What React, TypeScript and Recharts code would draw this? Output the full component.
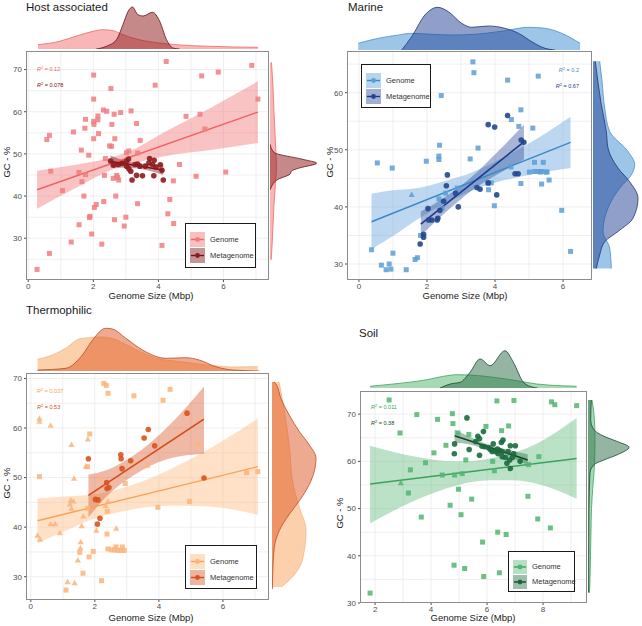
import React from "react";
import {
  ComposedChart,
  AreaChart,
  Area,
  Line,
  Scatter,
  XAxis,
  YAxis,
  CartesianGrid,
} from "recharts";

const FONT = '"Liberation Sans", Arial, Helvetica, sans-serif';

type P = [number, number];
type B = [number, number, number];

// ---------- Host associated ----------
const hostGenome: P[] = [
  [0.27, 22.6], [0.65, 54.4], [0.57, 53.4], [0.69, 45.9], [0.65, 26.4], [1.05, 41.3], [1.32, 29.1],
  [1.39, 55.2], [1.56, 33.2], [1.56, 45.6], [1.63, 50.9], [1.65, 43.4], [1.71, 40.0], [1.76, 45.1],
  [1.74, 56.1], [1.76, 58.2], [1.86, 49.7], [1.9, 35.2], [1.88, 34.9], [1.95, 31.0], [2.01, 68.7],
  [2.01, 63.0], [2.01, 57.7], [2.02, 57.0], [2.01, 53.6], [2.03, 37.3], [2.09, 38.0], [2.14, 59.0],
  [2.14, 58.1], [2.16, 54.8], [2.26, 28.6], [2.32, 38.7], [2.31, 60.4], [2.41, 60.1], [2.37, 48.9],
  [2.34, 44.9], [2.54, 65.5], [2.5, 51.9], [2.56, 51.8], [2.57, 57.0], [2.64, 59.4], [2.66, 53.6],
  [2.61, 44.2], [2.69, 40.0], [2.65, 34.4], [2.72, 44.9], [2.74, 44.4], [2.78, 43.8], [2.84, 59.8],
  [2.95, 32.9], [3.0, 35.0], [3.02, 50.3], [3.09, 50.7], [3.16, 60.2], [3.33, 57.2], [3.36, 50.2],
  [3.36, 38.2], [3.44, 53.2], [3.9, 66.3], [4.24, 71.9], [4.11, 28.3], [4.35, 39.2], [4.29, 35.8],
  [4.47, 33.5], [4.46, 43.6], [4.65, 47.5], [4.85, 58.9], [5.16, 44.7], [5.28, 59.4], [5.33, 68.5],
  [5.43, 55.9], [5.84, 69.4], [6.07, 45.7], [6.87, 71.0], [7.06, 63.0],
];
const hostMeta: P[] = [
  [2.53, 48.3], [2.62, 47.3], [2.77, 47.5], [2.88, 47.8], [3.01, 48.2], [3.08, 48.8], [3.09, 46.5],
  [3.15, 45.9], [3.19, 43.8], [3.28, 47.5], [3.33, 44.9], [3.51, 44.8], [3.6, 47.1], [3.71, 47.9],
  [3.73, 48.9], [3.82, 47.5], [3.87, 48.5], [3.86, 44.8], [3.92, 46.9], [4.06, 47.4], [4.11, 46.1],
  [4.15, 43.8], [3.02, 47.1], [3.43, 47.1], [3.36, 47.6],
];
const hostGenomeFit: P[] = [[0.27, 41.5], [7.06, 59.9]];
const hostGenomeBand: B[] = [
  [0.27, 37.0, 46.0], [1.5, 42.1, 47.5], [2.53, 46.1, 49.1], [3.3, 47.9, 51.3],
  [4.15, 49.4, 55.0], [5.6, 50.9, 60.9], [7.06, 52.6, 67.2],
];
const hostMetaFit: P[] = [[2.53, 48.2], [4.15, 46.2]];
const hostMetaBand: B[] = [[2.53, 46.8, 49.6], [3.3, 46.6, 47.8], [4.15, 45.0, 47.5]];
const hostTopGenome: P[] = [
  [0.3, 4.3], [0.96, 7.7], [1.48, 13], [1.99, 17.7], [2.3, 19.3], [2.61, 18.3], [2.91, 14.3],
  [3.32, 10], [4.03, 6], [4.55, 4.3], [5.57, 2.7], [7.06, 1.7],
];
const hostTopMeta: P[] = [
  [2.09, 0], [2.4, 2.7], [2.71, 9.3], [2.91, 24.3], [3.07, 37.7], [3.2, 42], [3.37, 34.3],
  [3.53, 33], [3.82, 36.7], [4.04, 27.7], [4.25, 9.3], [4.45, 1], [4.65, 0],
];
const hostRightGenome: P[] = [
  [71.7, 1.5], [66, 3], [60, 4], [55, 5], [50, 6], [47, 6.5], [43, 5.5], [38, 4], [33, 3], [28, 2], [24.9, 1.2],
];
const hostRightMeta: P[] = [
  [52.3, 0], [50.3, 4.3], [48.7, 33], [47.8, 46.7], [46.7, 30], [46.0, 21.7], [45.2, 20],
  [44.0, 8.3], [42.0, 1], [41.5, 0],
];

// ---------- Marine ----------
const marineGenome: P[] = [
  [0.37, 32.5], [0.54, 47.7], [0.66, 29.8], [0.8, 29.0], [0.89, 30.0], [0.94, 29.1], [0.98, 46.8],
  [1.0, 31.9], [1.39, 29.0], [1.65, 30.8], [1.72, 31.1], [1.81, 35.0], [1.98, 48.0], [2.37, 50.8],
  [2.35, 48.3], [2.35, 48.9], [2.42, 59.5], [2.35, 41.4], [2.45, 39.8], [2.55, 42.4], [2.89, 43.3],
  [3.27, 48.4], [3.35, 65.4], [3.38, 63.5], [3.5, 50.3], [3.79, 44.2], [3.81, 43.0], [3.89, 44.2],
  [3.98, 40.2], [4.37, 62.2], [4.48, 55.3], [4.7, 54.1], [4.76, 57.0], [4.47, 47.0], [4.76, 44.1],
  [5.01, 46.1], [5.11, 53.8], [5.16, 46.2], [5.26, 46.2], [5.27, 62.9], [5.33, 46.1], [5.38, 46.2],
  [5.42, 47.8], [5.37, 44.0], [5.5, 46.1], [5.53, 46.1], [5.59, 44.7], [5.96, 39.4], [6.22, 32.2],
  [5.16, 47.8],
];
const marineGenomeTri: P[] = [[1.55, 42.1]];
const marineMeta: P[] = [
  [1.8, 33.5], [1.9, 35.2], [1.9, 34.7], [2.03, 39.7], [2.05, 37.7], [2.14, 37.7], [2.3, 37.7],
  [2.32, 38.0], [2.38, 39.4], [2.49, 41.0], [2.57, 43.7], [2.6, 45.6], [2.84, 42.4], [2.92, 40.0],
  [3.47, 43.4], [3.56, 43.1], [3.8, 44.2], [3.8, 54.4], [3.99, 54.0], [4.05, 42.1], [4.37, 56.0],
  [4.59, 45.8], [4.68, 45.8], [4.77, 51.7], [4.85, 51.3],
];
const marineGenomeFit: P[] = [[0.37, 37.4], [6.22, 51.3]];
const marineGenomeBand: B[] = [
  [0.37, 32.6, 42.3], [1.0, 34.9, 42.9], [1.82, 38.2, 43.4], [2.5, 40.5, 44.5], [3.3, 42.8, 46.0],
  [4.1, 44.4, 48.2], [4.85, 45.4, 50.6], [6.22, 46.8, 55.8],
];
const marineMetaFit: P[] = [[1.82, 37.0], [4.85, 51.4]];
const marineMetaBand: B[] = [
  [1.82, 35.0, 39.2], [2.5, 38.8, 41.6], [3.3, 42.8, 45.2], [4.1, 45.8, 49.8], [4.85, 48.3, 54.4],
];
const marineTopGenome: P[] = [
  [-0.02, 6.7], [0.57, 11.7], [1.16, 15], [1.55, 16.7], [2.14, 15.7], [2.82, 15], [3.71, 16.7],
  [4.29, 19.3], [4.98, 22.7], [5.47, 21.7], [5.96, 16.7], [6.5, 6.7],
];
const marineTopMeta: P[] = [
  [1.26, 0], [1.55, 13.3], [1.94, 35], [2.31, 42.7], [2.63, 38.3], [3.02, 26.7], [3.31, 22.7],
  [3.8, 24], [4.29, 21.7], [4.69, 16.7], [5.08, 8.3], [5.47, 1.7], [5.76, 0],
];
const marineRightGenome: P[] = [
  [65.5, 6.7], [62.0, 9], [57.3, 11.7], [53.2, 16.7], [49.7, 35], [47.4, 41.7], [45.6, 38.3],
  [43.3, 26.7], [39.8, 15], [35.7, 10], [32.8, 16.7], [29.2, 18.3],
];
const marineRightMeta: P[] = [
  [65.5, 2.3], [57.9, 8.3], [53.2, 13.3], [50.3, 15], [46.8, 25], [44.4, 36.7], [41.5, 45],
  [38.0, 40], [35.7, 25], [33.9, 11.7], [31.6, 6.7], [29.2, 3.3],
];

// ---------- Thermophilic ----------
const thermoGenome: P[] = [
  [0.27, 50.2], [1.1, 27.3], [1.53, 34.9], [1.63, 30.7], [1.77, 52.2], [1.82, 34.0], [1.84, 58.8],
  [1.95, 35.1], [2.21, 29.2], [2.28, 69.0], [2.36, 68.6], [2.41, 67.0], [2.38, 38.6], [2.41, 35.6],
  [2.52, 35.4], [2.62, 35.4], [2.66, 36.0], [2.72, 35.3], [2.82, 35.3], [2.92, 35.3], [2.86, 36.0],
  [2.39, 43.2], [2.95, 48.8], [3.22, 66.5], [3.65, 52.5], [3.97, 44.0], [4.13, 65.6], [4.35, 67.8],
  [4.96, 45.2], [5.23, 56.7], [6.74, 51.0], [7.09, 51.2], [1.78, 43.8],
];
const thermoGenomeTri: P[] = [
  [0.21, 38.3], [0.27, 61.9], [0.27, 61.3], [0.29, 37.5], [0.62, 60.5], [0.62, 40.6], [0.76, 40.6],
  [0.91, 38.8], [1.15, 28.9], [1.27, 56.6], [1.25, 45.4], [1.33, 45.2], [1.27, 43.7], [1.37, 28.7],
  [1.35, 49.8], [1.47, 33.3], [1.56, 37.0], [1.55, 35.8], [1.59, 40.2], [1.64, 42.2], [1.72, 52.2],
  [1.78, 57.7], [2.05, 39.3], [2.16, 49.8], [2.34, 44.3], [2.41, 45.2], [2.67, 39.7], [1.22, 44.6],
];
const thermoMeta: P[] = [
  [1.8, 53.8], [2.02, 45.6], [2.1, 45.5], [2.08, 40.6], [2.16, 41.8], [2.37, 49.0], [2.38, 47.8],
  [2.44, 48.0], [2.81, 54.6], [2.82, 53.8], [2.85, 51.8], [3.12, 53.4], [3.54, 58.0], [3.67, 59.7],
  [3.87, 56.4], [4.88, 63.0], [5.41, 49.9],
];
const thermoGenomeFit: P[] = [[0.21, 41.3], [7.09, 52.2]];
const thermoGenomeBand: B[] = [
  [0.21, 36.8, 45.8], [1.0, 39.0, 46.2], [1.8, 41.3, 46.5], [2.4, 42.5, 47.1], [3.2, 43.6, 48.6],
  [4.3, 44.3, 51.5], [5.41, 44.2, 55.2], [7.09, 42.5, 61.9],
];
const thermoMetaFit: P[] = [[1.8, 46.4], [5.41, 61.8]];
const thermoMetaBand: B[] = [
  [1.8, 42.0, 50.6], [2.4, 46.4, 51.6], [3.2, 50.4, 54.4], [4.3, 53.8, 60.4], [5.41, 54.8, 68.4],
];
const thermoTopGenome: P[] = [
  [0.21, 11.7], [0.68, 16], [1.09, 22.7], [1.51, 32], [1.82, 33.3], [2.2, 34], [2.6, 32], [3.0, 26],
  [3.5, 18], [4.0, 12], [4.5, 10], [5.0, 8], [5.5, 6], [6.3, 4], [7.09, 4.3],
];
const thermoTopMeta: P[] = [
  [0.21, 1], [1.09, 2.7], [1.61, 16], [1.93, 31], [2.34, 42.7], [2.55, 42], [2.97, 32.7],
  [3.49, 21], [4.22, 12.7], [4.84, 13.3], [5.26, 11], [5.78, 4.3], [6.3, 1], [7.13, 0],
];
const thermoRightGenome: P[] = [
  [69.3, 7], [65, 11], [60, 15], [55, 18], [50, 20], [47, 23], [44, 27.3], [39.3, 34], [35.3, 32.3],
  [31.9, 27.3], [29.3, 17.3], [27.9, 9],
];
const thermoRightMeta: P[] = [
  [69.3, 2], [68.9, 4], [65.9, 9], [62.6, 17.3], [59.3, 27.3], [56.6, 37.3], [53.9, 44], [51.3, 42.3],
  [48.6, 37.3], [45.3, 27.3], [42.6, 17.3], [39.3, 7.3], [35.9, 2.3], [30.6, 0.7], [27.5, 0.3],
];

// ---------- Soil ----------
const soilGenome: P[] = [
  [1.82, 32.1], [2.5, 73.0], [2.89, 66.0], [3.19, 53.3], [3.26, 58.2], [3.49, 69.9], [3.65, 48.2],
  [3.8, 59.7], [4.1, 61.8], [4.23, 68.9], [4.4, 57.1], [4.53, 63.4], [4.68, 50.7], [4.76, 70.1],
  [4.78, 68.0], [4.82, 38.0], [4.84, 57.1], [4.96, 66.0], [4.98, 54.1], [5.07, 48.7], [5.11, 57.4],
  [5.2, 37.3], [5.24, 60.3], [5.35, 65.7], [5.45, 52.0], [5.84, 42.9], [5.88, 35.6], [5.96, 67.4],
  [6.2, 60.0], [6.26, 58.0], [6.35, 72.8], [6.38, 45.0], [6.44, 36.4], [6.52, 66.5], [6.68, 44.5],
  [6.77, 67.5], [6.96, 72.9], [7.46, 52.6], [7.81, 47.8], [7.85, 61.0], [8.26, 45.9], [8.3, 72.6],
  [8.42, 72.0], [9.2, 71.8], [7.48, 59.3],
];
const soilGenomeTri: P[] = [[2.92, 55.4]];
const soilMeta: P[] = [
  [4.84, 63.7], [4.83, 61.6], [5.28, 69.2], [5.36, 62.5], [5.59, 64.2], [5.67, 65.3], [5.73, 64.8],
  [5.73, 61.3], [5.87, 66.3], [5.91, 63.1], [6.06, 62.9], [6.12, 62.5], [6.18, 62.1], [6.22, 63.7],
  [6.3, 62.1], [6.37, 62.6], [6.45, 62.3], [6.51, 64.0], [6.54, 62.1], [6.54, 61.0], [6.57, 64.5],
  [6.65, 60.8], [6.71, 59.6], [6.75, 62.1], [6.81, 60.3], [6.83, 63.3], [6.83, 58.5], [6.91, 60.8],
  [6.95, 61.6], [7.01, 63.3], [7.18, 60.0], [6.39, 61.6], [5.82, 63.2],
];
const soilGenomeFit: P[] = [[1.82, 55.2], [9.2, 60.6]];
const soilGenomeBand: B[] = [
  [1.82, 46.9, 63.3], [3.5, 51.9, 60.9], [4.84, 54.8, 60.0], [5.5, 55.7, 60.1], [6.1, 56.0, 60.6],
  [6.8, 56.0, 61.6], [7.45, 55.7, 62.9], [9.2, 52.1, 69.2],
];
const soilMetaFit: P[] = [[4.84, 65.4], [7.45, 60.3]];
const soilMetaBand: B[] = [
  [4.84, 64.0, 66.7], [5.5, 63.4, 64.9], [6.1, 62.2, 63.4], [6.8, 60.9, 62.4], [7.45, 59.2, 61.5],
];
const soilTopGenome: P[] = [
  [1.82, 1.7], [2.65, 4], [3.85, 8.3], [4.44, 11.7], [4.92, 13.3], [5.39, 13], [6.23, 10.7],
  [7.06, 7.3], [7.77, 4], [8.61, 2.3], [9.2, 1.7],
];
const soilTopMeta: P[] = [
  [4.32, 0], [4.68, 4], [5.04, 5.7], [5.39, 15.7], [5.75, 29], [6.11, 22.3], [6.64, 37.3],
  [6.94, 25.7], [7.3, 5.7], [7.65, 0.7], [7.8, 0],
];
const soilRightGenome: P[] = [
  [73, 4], [70, 6], [65, 7], [60, 6.7], [55, 5], [50, 3.5], [45, 3], [40, 2.5], [35, 2], [32.2, 1.5],
];
const soilRightMeta: P[] = [
  [73.0, 3.3], [68.8, 2.7], [66.7, 6], [65.3, 16], [64.2, 29.3], [63.0, 41], [61.4, 29.3],
  [60.3, 16], [59.3, 6], [57.5, 2], [50, 1], [40, 0.8], [32.2, 0.7],
];

// ---------- helpers ----------
interface Colors {
  gPt: string; mPt: string; gLine: string; mLine: string; gBand: string; mBand: string;
  gDen: string; gDenLine: string; mDen: string; mDenLine: string;
}

interface Cfg {
  title: string; titleX: number; titleY: number;
  box: { left: number; top: number; width: number; height: number };
  xDomain: [number, number]; yDomain: [number, number];
  xTicks: number[]; yTicks: number[]; xGrid: number[]; yGrid: number[];
  genome: P[]; genomeTri: P[]; meta: P[];
  gFit: P[]; gBand: B[]; mFit: P[]; mBand: B[];
  topG: P[]; topM: P[]; topBase: number; topH: number;
  rightG: P[]; rightM: P[]; rightLeft: number; rightW: number;
  c: Colors;
  legend: { left: number; top: number; width: number; height: number; key: number };
  r2: [string, string]; r2X: number; r2Y: [number, number]; r2Right: boolean;
  xLabel: [number, number]; yLabel: [number, number];
}

const toPts = (a: P[]) => a.map(([x, y]) => ({ x, y }));

function fitRows(gFit: P[], gBand: B[], mFit: P[], mBand: B[]) {
  const map = new Map<number, any>();
  const get = (x: number) => {
    if (!map.has(x)) map.set(x, { x });
    return map.get(x);
  };
  gFit.forEach(([x, y]) => (get(x).gFit = y));
  gBand.forEach(([x, lo, hi]) => (get(x).gBand = [lo, hi]));
  mFit.forEach(([x, y]) => (get(x).mFit = y));
  mBand.forEach(([x, lo, hi]) => (get(x).mBand = [lo, hi]));
  return Array.from(map.values()).sort((a, b) => a.x - b.x);
}

function denRows(g: P[], m: P[], desc = false) {
  const map = new Map<number, any>();
  const get = (k: number) => {
    if (!map.has(k)) map.set(k, { k });
    return map.get(k);
  };
  g.forEach(([k, v]) => (get(k).g = v));
  m.forEach(([k, v]) => (get(k).m = v));
  return Array.from(map.values()).sort((a, b) => (desc ? b.k - a.k : a.k - b.k));
}

const squareShape = (fill: string) => (p: any) => (
  <rect x={p.cx - 2.5} y={p.cy - 2.5} width={5} height={5} fill={fill} fillOpacity={0.85} />
);
const triShape = (fill: string) => (p: any) => (
  <path
    d={`M${p.cx},${p.cy - 3.3}L${p.cx + 3.1},${p.cy + 2.2}L${p.cx - 3.1},${p.cy + 2.2}Z`}
    fill={fill}
    fillOpacity={0.85}
  />
);
const circleShape = (fill: string) => (p: any) => (
  <circle cx={p.cx} cy={p.cy} r={2.8} fill={fill} fillOpacity={0.9} />
);

const abs = (left: number, top: number): React.CSSProperties => ({ position: "absolute", left, top });

function KeyBox({ size, band, line, pt }: { size: number; band: string; line: string; pt: string }) {
  return (
    <svg width={size} height={size} style={{ display: "block" }}>
      <rect width={size} height={size} fill={band} fillOpacity={0.45} />
      <line x1={1} x2={size - 1} y1={size / 2} y2={size / 2} stroke={line} strokeWidth={1.4} />
      <circle cx={size / 2} cy={size / 2} r={2.4} fill={pt} />
    </svg>
  );
}

function R2({ value, color }: { value: string; color: string }) {
  return (
    <span style={{ color, fontSize: 5.5, whiteSpace: "nowrap", lineHeight: 1 }}>
      <i>R</i>
      <span style={{ fontSize: 4, verticalAlign: 2 }}>2</span> = {value}
    </span>
  );
}

const YW = 24;
const MT = 10;
const MR = 10;
const XH = 16;

function Panel({ cfg }: { cfg: Cfg }) {
  const { box, c } = cfg;
  const rows = fitRows(cfg.gFit, cfg.gBand, cfg.mFit, cfg.mBand);
  const topRows = denRows(cfg.topG, cfg.topM);
  const rightRows = denRows(cfg.rightG, cfg.rightM, true);
  const tick = { fontSize: 8, fill: "#4d4d4d", fontFamily: FONT };
  const lg = cfg.legend;
  return (
    <>
      <div
        style={{
          ...abs(cfg.titleX, cfg.titleY),
          transform: "translateY(-50%)",
          fontSize: 11.5,
          lineHeight: 1,
          color: "#1a1a1a",
          whiteSpace: "nowrap",
        }}
      >
        {cfg.title}
      </div>

      {/* top marginal density */}
      <div style={abs(box.left, cfg.topBase - cfg.topH)}>
        <AreaChart width={box.width} height={cfg.topH} data={topRows} margin={{ top: 0, right: 0, bottom: 0, left: 0 }}>
          <XAxis type="number" dataKey="k" domain={cfg.xDomain} allowDataOverflow hide />
          <YAxis type="number" domain={[0, cfg.topH]} allowDataOverflow hide />
          <Area dataKey="g" type="monotone" connectNulls fill={c.gDen} fillOpacity={0.5} stroke={c.gDenLine}
            strokeWidth={0.8} dot={false} activeDot={false} isAnimationActive={false} />
          <Area dataKey="m" type="monotone" connectNulls fill={c.mDen} fillOpacity={0.5} stroke={c.mDenLine}
            strokeWidth={0.8} dot={false} activeDot={false} isAnimationActive={false} />
        </AreaChart>
      </div>

      {/* right marginal density */}
      <div style={abs(cfg.rightLeft, box.top)}>
        <AreaChart layout="vertical" width={cfg.rightW} height={box.height} data={rightRows}
          margin={{ top: 0, right: 0, bottom: 0, left: 0 }}>
          <XAxis type="number" domain={[0, cfg.rightW]} allowDataOverflow hide />
          <YAxis type="number" dataKey="k" domain={cfg.yDomain} allowDataOverflow reversed hide />
          <Area dataKey="g" type="monotone" connectNulls fill={c.gDen} fillOpacity={0.5} stroke={c.gDenLine}
            strokeWidth={0.8} dot={false} activeDot={false} isAnimationActive={false} />
          <Area dataKey="m" type="monotone" connectNulls fill={c.mDen} fillOpacity={0.5} stroke={c.mDenLine}
            strokeWidth={0.8} dot={false} activeDot={false} isAnimationActive={false} />
        </AreaChart>
      </div>

      {/* main scatter with fits */}
      <div style={abs(box.left - YW, box.top - MT)}>
        <ComposedChart width={box.width + YW + MR} height={box.height + MT + XH} data={rows}
          margin={{ top: MT, right: MR, bottom: 0, left: 0 }}>
          <CartesianGrid verticalValues={cfg.xGrid} horizontalValues={cfg.yGrid} stroke="#ebebeb" strokeWidth={0.8} />
          <XAxis type="number" dataKey="x" domain={cfg.xDomain} ticks={cfg.xTicks} interval={0} allowDataOverflow
            height={XH} tickSize={2} tickMargin={1} axisLine={false} tick={tick} tickLine={{ stroke: "#4d4d4d" }} />
          <YAxis type="number" domain={cfg.yDomain} ticks={cfg.yTicks} interval={0} allowDataOverflow
            width={YW} tickSize={2} tickMargin={2} axisLine={false} tick={tick} tickLine={{ stroke: "#4d4d4d" }} />
          <Area dataKey="gBand" type="monotone" fill={c.gBand} fillOpacity={0.42} stroke="none"
            dot={false} activeDot={false} isAnimationActive={false} />
          <Area dataKey="mBand" type="monotone" fill={c.mBand} fillOpacity={0.42} stroke="none"
            dot={false} activeDot={false} isAnimationActive={false} />
          <Scatter data={toPts(cfg.genome)} dataKey="y" shape={squareShape(c.gPt)} isAnimationActive={false} />
          <Scatter data={toPts(cfg.genomeTri)} dataKey="y" shape={triShape(c.gPt)} isAnimationActive={false} />
          <Scatter data={toPts(cfg.meta)} dataKey="y" shape={circleShape(c.mPt)} isAnimationActive={false} />
          <Line dataKey="gFit" type="linear" connectNulls stroke={c.gLine} strokeWidth={1.4}
            dot={false} activeDot={false} isAnimationActive={false} />
          <Line dataKey="mFit" type="linear" connectNulls stroke={c.mLine} strokeWidth={1.6}
            dot={false} activeDot={false} isAnimationActive={false} />
        </ComposedChart>
      </div>

      {/* panel border */}
      <div
        style={{
          ...abs(box.left, box.top),
          width: box.width,
          height: box.height,
          border: "1px solid #8c8c8c",
          boxSizing: "border-box",
          pointerEvents: "none",
        }}
      />

      {/* R² labels */}
      {cfg.r2.map((v, i) => (
        <div
          key={i}
          style={{
            ...abs(cfg.r2X, cfg.r2Y[i]),
            transform: cfg.r2Right ? "translate(-100%,-50%)" : "translateY(-50%)",
            lineHeight: 1,
          }}
        >
          <R2 value={v} color={i === 0 ? c.gLine : c.mLine} />
        </div>
      ))}

      {/* legend */}
      <div
        style={{
          ...abs(lg.left, lg.top),
          width: lg.width,
          height: lg.height,
          border: "1.2px solid #1a1a1a",
          boxSizing: "border-box",
          background: "#fff",
        }}
      >
        {[
          { label: "Genome", band: c.gBand, line: c.gLine, pt: c.gPt },
          { label: "Metagenome", band: c.mBand, line: c.mLine, pt: c.mPt },
        ].map((it, i) => (
          <React.Fragment key={it.label}>
            <div style={abs(4, 7.5 + i * (lg.key + 1))}>
              <KeyBox size={lg.key} band={it.band} line={it.line} pt={it.pt} />
            </div>
            <div
              style={{
                ...abs(lg.key + 9, 7.5 + i * (lg.key + 1)),
                height: lg.key,
                lineHeight: `${lg.key}px`,
                fontSize: 7.5,
                color: "#333",
                whiteSpace: "nowrap",
              }}
            >
              {it.label}
            </div>
          </React.Fragment>
        ))}
      </div>

      {/* axis titles */}
      <div
        style={{
          ...abs(cfg.xLabel[0], cfg.xLabel[1]),
          transform: "translate(-50%,-50%)",
          fontSize: 9.5,
          lineHeight: 1,
          color: "#1a1a1a",
          whiteSpace: "nowrap",
        }}
      >
        Genome Size (Mbp)
      </div>
      <div
        style={{
          ...abs(cfg.yLabel[0], cfg.yLabel[1]),
          transform: "translate(-50%,-50%) rotate(-90deg)",
          fontSize: 9.5,
          lineHeight: 1,
          color: "#1a1a1a",
          whiteSpace: "nowrap",
        }}
      >
        GC - %
      </div>
    </>
  );
}

const panels: Cfg[] = [
  {
    title: "Host associated", titleX: 26, titleY: 7.5,
    box: { left: 26, top: 51, width: 243, height: 229 },
    xDomain: [-0.07, 7.4], yDomain: [20.1, 74.4],
    xTicks: [0, 2, 4, 6], yTicks: [30, 40, 50, 60, 70],
    xGrid: [0, 1, 2, 3, 4, 5, 6, 7], yGrid: [25, 30, 35, 40, 45, 50, 55, 60, 65, 70],
    genome: hostGenome, genomeTri: [], meta: hostMeta,
    gFit: hostGenomeFit, gBand: hostGenomeBand, mFit: hostMetaFit, mBand: hostMetaBand,
    topG: hostTopGenome, topM: hostTopMeta, topBase: 49, topH: 44,
    rightG: hostRightGenome, rightM: hostRightMeta, rightLeft: 270, rightW: 47,
    c: {
      gPt: "#F07C80", mPt: "#8E1A1E", gLine: "#EE6464", mLine: "#850A10", gBand: "#F27070",
      mBand: "#7A1418", gDen: "#F26D6D", gDenLine: "#EE6A6A", mDen: "#8B1414", mDenLine: "#6A0F16",
    },
    legend: { left: 185, top: 223, width: 71, height: 45, key: 15 },
    r2: ["0.12", "0.078"], r2X: 37, r2Y: [66, 82], r2Right: false,
    xLabel: [151, 296], yLabel: [7, 162],
  },
  {
    title: "Marine", titleX: 348, titleY: 7.5,
    box: { left: 347, top: 51, width: 245, height: 229 },
    xDomain: [-0.35, 6.85], yDomain: [27.2, 67.3],
    xTicks: [0, 2, 4, 6], yTicks: [30, 40, 50, 60],
    xGrid: [0, 1, 2, 3, 4, 5, 6], yGrid: [30, 35, 40, 45, 50, 55, 60, 65],
    genome: marineGenome, genomeTri: marineGenomeTri, meta: marineMeta,
    gFit: marineGenomeFit, gBand: marineGenomeBand, mFit: marineMetaFit, mBand: marineMetaBand,
    topG: marineTopGenome, topM: marineTopMeta, topBase: 50, topH: 44,
    rightG: marineRightGenome, rightM: marineRightMeta, rightLeft: 593, rightW: 46,
    c: {
      gPt: "#5C9ED6", mPt: "#22468F", gLine: "#3A88C8", mLine: "#183C88", gBand: "#5FA0D8",
      mBand: "#2F4E9E", gDen: "#3C8BD0", gDenLine: "#4E8FC8", mDen: "#1F3F93", mDenLine: "#1E3575",
    },
    legend: { left: 361, top: 64, width: 70, height: 44, key: 15 },
    r2: ["0.2", "0.67"], r2X: 579, r2Y: [67, 83], r2Right: true,
    xLabel: [465, 296], yLabel: [330, 162],
  },
  {
    title: "Thermophilic", titleX: 26, titleY: 311,
    box: { left: 26, top: 373, width: 243, height: 227 },
    xDomain: [-0.15, 7.44], yDomain: [25.3, 71.1],
    xTicks: [0, 2, 4, 6], yTicks: [30, 40, 50, 60, 70],
    xGrid: [0, 1, 2, 3, 4, 5, 6, 7], yGrid: [30, 35, 40, 45, 50, 55, 60, 65, 70],
    genome: thermoGenome, genomeTri: thermoGenomeTri, meta: thermoMeta,
    gFit: thermoGenomeFit, gBand: thermoGenomeBand, mFit: thermoMetaFit, mBand: thermoMetaBand,
    topG: thermoTopGenome, topM: thermoTopMeta, topBase: 371, topH: 45,
    rightG: thermoRightGenome, rightM: thermoRightMeta, rightLeft: 272, rightW: 45,
    c: {
      gPt: "#FBB47A", mPt: "#D8531F", gLine: "#F8A256", mLine: "#D24B17", gBand: "#FCB77A",
      mBand: "#D8582A", gDen: "#F9A257", gDenLine: "#F5B380", mDen: "#DD5522", mDenLine: "#C04A20",
    },
    legend: { left: 185, top: 545, width: 72, height: 44, key: 15 },
    r2: ["0.037", "0.53"], r2X: 37, r2Y: [388, 404], r2Right: false,
    xLabel: [151, 618], yLabel: [7, 483],
  },
  {
    title: "Soil", titleX: 359, titleY: 334,
    box: { left: 360, top: 391, width: 227, height: 212 },
    xDomain: [1.46, 9.57], yDomain: [30, 74.9],
    xTicks: [2, 4, 6, 8], yTicks: [30, 40, 50, 60, 70],
    xGrid: [2, 3, 4, 5, 6, 7, 8, 9], yGrid: [35, 40, 45, 50, 55, 60, 65, 70],
    genome: soilGenome, genomeTri: soilGenomeTri, meta: soilMeta,
    gFit: soilGenomeFit, gBand: soilGenomeBand, mFit: soilMetaFit, mBand: soilMetaBand,
    topG: soilTopGenome, topM: soilTopMeta, topBase: 388, topH: 40,
    rightG: soilRightGenome, rightM: soilRightMeta, rightLeft: 588, rightW: 43,
    c: {
      gPt: "#52B571", mPt: "#1B6A3E", gLine: "#3BA25E", mLine: "#0F4A28", gBand: "#5DB87A",
      mBand: "#2D6E4A", gDen: "#4FB36B", gDenLine: "#3FA35E", mDen: "#2A6B44", mDenLine: "#1E4630",
    },
    legend: { left: 508, top: 551, width: 67, height: 41, key: 14 },
    r2: ["0.011", "0.38"], r2X: 371, r2Y: [404, 420], r2Right: false,
    xLabel: [473, 618], yLabel: [340, 513],
  },
];

export default function App() {
  return (
    <div
      style={{
        position: "absolute",
        left: 0,
        top: 0,
        width: 642,
        height: 626,
        background: "#fff",
        overflow: "hidden",
        fontFamily: FONT,
      }}
    >
      {panels.map((p) => (
        <Panel key={p.title} cfg={p} />
      ))}
    </div>
  );
}
